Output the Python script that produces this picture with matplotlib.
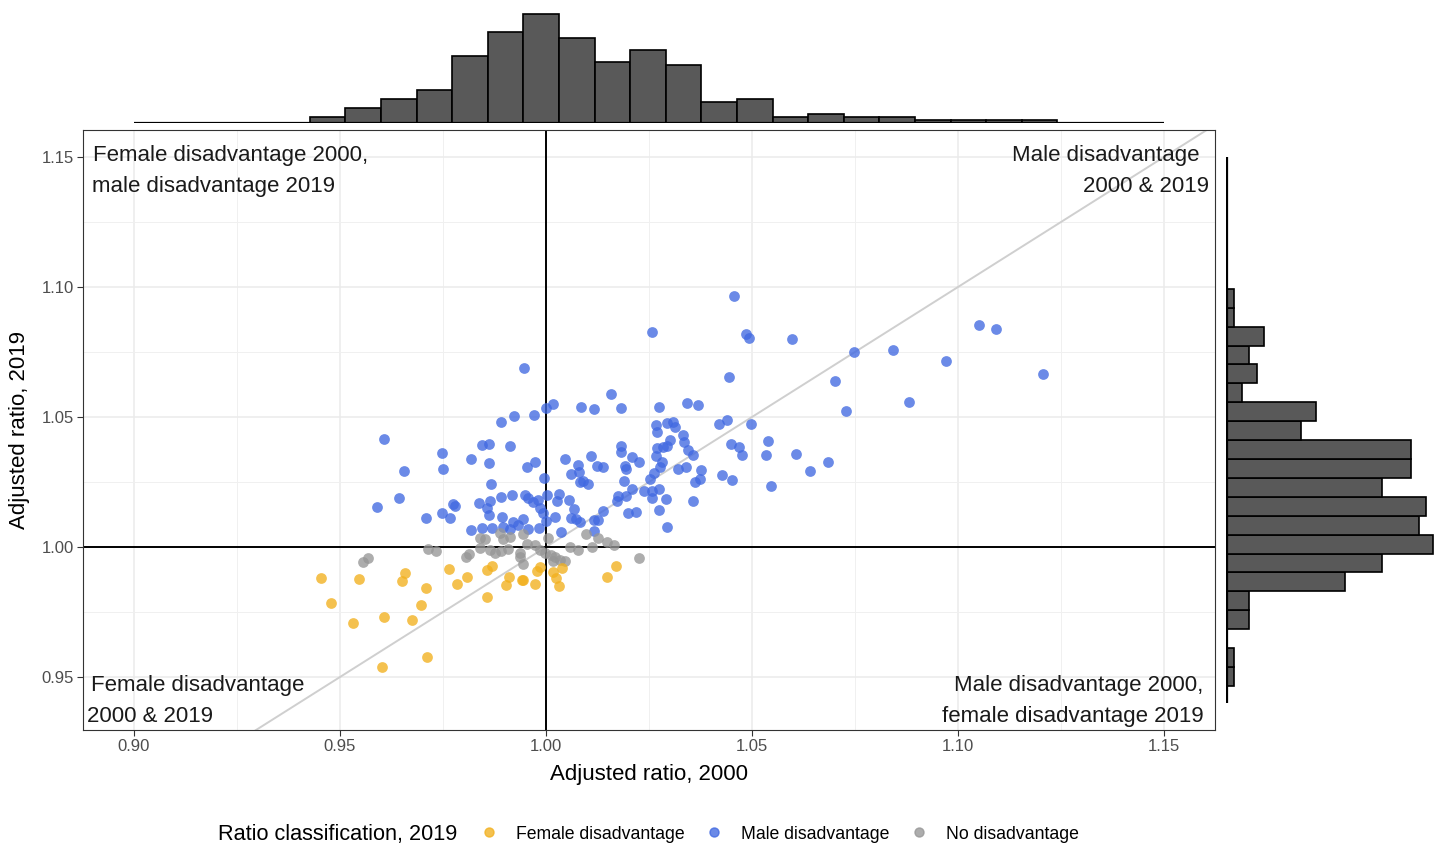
import numpy as np
import matplotlib
matplotlib.use("Agg")
import matplotlib.pyplot as plt
from matplotlib.lines import Line2D

plt.rcParams['font.family'] = ['Liberation Sans', 'DejaVu Sans']

# adjusted sex ratios, 2000 vs 2019, split by 2019 classification
male_x = [1.0456, 1.0257, 1.0485, 1.0492, 1.0596, 1.1051, 1.1093, 1.0748, 1.0842, 1.0970,
          1.1206, 1.0444, 1.0701, 1.0880, 1.0729, 1.0274, 1.0343, 1.0369, 1.0420, 1.0439,
          1.0498, 1.0268, 1.0269, 1.0293, 1.0308, 1.0314, 1.0333, 1.0335, 1.0302, 1.0270,
          1.0283, 1.0294, 1.0268, 1.0344, 1.0358, 1.0282, 1.0277, 1.0320, 1.0340, 1.0376,
          1.0261, 1.0252, 1.0362, 1.0373, 1.0448, 1.0468, 1.0476, 1.0540, 1.0534, 1.0607,
          1.0684, 1.0641, 1.0426, 1.0451, 1.0546, 1.0274, 1.0257, 1.0291, 1.0358, 1.0257,
          1.0274,
          0.9844, 0.9861, 0.9912, 0.9747, 0.9818, 0.9862, 0.9751, 0.9955, 0.9973, 0.9866,
          0.9995, 1.0046, 1.0109, 1.0060, 1.0078, 1.0081, 1.0123, 1.0139, 1.0083, 1.0091,
          1.0102, 1.0182, 1.0182, 1.0208, 1.0226, 1.0192, 1.0193, 1.0190, 1.0208, 1.0174,
          1.0173, 1.0193, 1.0237, 1.0198, 1.0218, 1.0139, 1.0127, 1.0117, 1.0117, 1.0293,
          0.9774, 0.9779, 0.9838, 0.9864, 0.9890, 0.9917, 0.9949, 0.9957, 0.9969, 0.9980,
          1.0002, 1.0032, 1.0027, 1.0056, 1.0069, 0.9856, 0.9862, 0.9747, 0.9767, 0.9892,
          0.9921, 0.9943, 0.9985, 0.9993, 1.0000, 1.0022, 1.0061, 1.0074, 1.0083, 0.9818,
          0.9844, 0.9868, 0.9896, 0.9913, 0.9931, 0.9956, 0.9983, 1.0036,
          0.9608, 0.9656, 0.9642, 0.9591, 0.9709,
          0.9947, 1.0158, 1.0016, 1.0000, 1.0086, 1.0117, 1.0183, 0.9891, 0.9922, 0.9972]
male_y = [1.0965, 1.0826, 1.0820, 1.0803, 1.0801, 1.0855, 1.0837, 1.0750, 1.0759, 1.0714,
          1.0665, 1.0655, 1.0640, 1.0558, 1.0524, 1.0537, 1.0554, 1.0546, 1.0473, 1.0488,
          1.0474, 1.0470, 1.0441, 1.0478, 1.0482, 1.0462, 1.0432, 1.0404, 1.0410, 1.0382,
          1.0385, 1.0387, 1.0350, 1.0374, 1.0353, 1.0326, 1.0307, 1.0299, 1.0307, 1.0296,
          1.0283, 1.0262, 1.0249, 1.0263, 1.0397, 1.0385, 1.0355, 1.0408, 1.0355, 1.0357,
          1.0328, 1.0291, 1.0277, 1.0259, 1.0236, 1.0222, 1.0217, 1.0185, 1.0176, 1.0187,
          1.0142,
          1.0392, 1.0396, 1.0390, 1.0360, 1.0340, 1.0323, 1.0299, 1.0307, 1.0327, 1.0244,
          1.0265, 1.0337, 1.0351, 1.0281, 1.0315, 1.0287, 1.0313, 1.0309, 1.0249, 1.0254,
          1.0241, 1.0388, 1.0364, 1.0345, 1.0327, 1.0313, 1.0301, 1.0253, 1.0222, 1.0197,
          1.0176, 1.0195, 1.0217, 1.0130, 1.0135, 1.0137, 1.0104, 1.0103, 1.0062, 1.0076,
          1.0164, 1.0159, 1.0170, 1.0176, 1.0191, 1.0200, 1.0200, 1.0187, 1.0174, 1.0181,
          1.0200, 1.0203, 1.0178, 1.0181, 1.0146, 1.0149, 1.0123, 1.0132, 1.0110, 1.0117,
          1.0095, 1.0108, 1.0149, 1.0130, 1.0099, 1.0117, 1.0110, 1.0107, 1.0095, 1.0065,
          1.0072, 1.0072, 1.0078, 1.0070, 1.0085, 1.0069, 1.0074, 1.0058,
          1.0414, 1.0294, 1.0188, 1.0154, 1.0113,
          1.0688, 1.0590, 1.0549, 1.0533, 1.0538, 1.0532, 1.0536, 1.0482, 1.0503, 1.0508]

none_x = [0.9840, 0.9852, 0.9888, 0.9913, 0.9943, 0.9896, 0.9840, 0.9864, 0.9876, 0.9891,
          0.9908, 0.9937, 0.9955, 0.9973, 0.9985, 0.9998, 1.0006, 1.0011, 1.0022, 1.0034,
          1.0046, 1.0018, 0.9945, 0.9937, 0.9806, 0.9814, 1.0058, 1.0078, 1.0096, 1.0111,
          1.0127, 1.0147, 1.0165, 1.0226, 0.9714, 0.9734, 0.9555, 0.9569]
none_y = [1.0036, 1.0032, 1.0053, 1.0040, 1.0050, 1.0031, 0.9995, 0.9988, 0.9978, 0.9985,
          0.9991, 0.9978, 1.0010, 1.0008, 0.9988, 0.9976, 1.0033, 0.9969, 0.9960, 0.9950,
          0.9947, 0.9947, 0.9935, 0.9963, 0.9963, 0.9972, 0.9999, 0.9988, 1.0050, 0.9999,
          1.0033, 1.0020, 1.0008, 0.9956, 0.9991, 0.9986, 0.9941, 0.9957]

female_x = [0.9765, 0.9808, 0.9785, 0.9856, 0.9870, 0.9858, 0.9910, 0.9904, 0.9941, 0.9944,
            0.9973, 0.9977, 0.9985, 1.0018, 1.0024, 1.0032, 1.0038, 1.0147, 1.0169,
            0.9453, 0.9546, 0.9658, 0.9651, 0.9708, 0.9478, 0.9696, 0.9532, 0.9607, 0.9675,
            0.9710, 0.9603]
female_y = [0.9915, 0.9886, 0.9858, 0.9912, 0.9928, 0.9809, 0.9886, 0.9854, 0.9873, 0.9874,
            0.9856, 0.9908, 0.9924, 0.9903, 0.9882, 0.9851, 0.9918, 0.9886, 0.9928,
            0.9882, 0.9877, 0.9899, 0.9869, 0.9841, 0.9783, 0.9777, 0.9709, 0.9730, 0.9719,
            0.9576, 0.9540]

# marginal histogram bins and counts
x_edges = [0.9427, 0.9513, 0.9600, 0.9686, 0.9773, 0.9859, 0.9945, 1.0032, 1.0118, 1.0205,
           1.0291, 1.0377, 1.0464, 1.0550, 1.0637, 1.0723, 1.0809, 1.0896, 1.0982, 1.1069,
           1.1155, 1.1241]
x_counts = [2, 5, 8, 11, 22, 30, 36, 28, 20, 24, 19, 7, 8, 2, 3, 2, 2, 1, 1, 1, 1]

y_edges = [0.9465, 0.9538, 0.9611, 0.9683, 0.9756, 0.9829, 0.9902, 0.9974, 1.0047, 1.0120,
           1.0193, 1.0265, 1.0338, 1.0411, 1.0484, 1.0556, 1.0629, 1.0702, 1.0774, 1.0847,
           1.0920, 1.0993]
y_counts = [1, 1, 0, 3, 3, 16, 21, 28, 26, 27, 21, 25, 25, 10, 12, 2, 4, 3, 5, 1, 1]

col_female = '#F2B01E'
col_male = '#4169E1'
col_none = '#969696'

W, H = 1443, 846
fig = plt.figure(figsize=(W / 100, H / 100), dpi=100)


def px_rect(left, top, right, bottom):
    return [left / W, 1 - bottom / H, (right - left) / W, (bottom - top) / H]


ax = fig.add_axes(px_rect(83, 130, 1215, 730))
ax_top = fig.add_axes(px_rect(83, 0, 1215, 123))
ax_right = fig.add_axes(px_rect(1226, 130, 1443, 730))

xlim = (0.88762, 1.16238)
ylim = (0.92962, 1.16038)

# main scatter
ax.set_xlim(*xlim)
ax.set_ylim(*ylim)
ax.set_xticks([0.90, 0.95, 1.00, 1.05, 1.10, 1.15])
ax.set_xticks([0.925, 0.975, 1.025, 1.075, 1.125], minor=True)
ax.set_yticks([0.95, 1.00, 1.05, 1.10, 1.15])
ax.set_yticks([0.975, 1.025, 1.075, 1.125], minor=True)
ax.set_xticklabels([f'{v:.2f}' for v in ax.get_xticks()])
ax.set_yticklabels([f'{v:.2f}' for v in ax.get_yticks()])
ax.grid(True, which='major', color='#EBEBEB', lw=1.1, zorder=0)
ax.grid(True, which='minor', color='#F0F0F0', lw=0.7, zorder=0)
ax.set_axisbelow(True)
ax.tick_params(which='major', length=4, width=0.8, color='#333333',
               labelsize=12, labelcolor='#4D4D4D', pad=2.5)
ax.tick_params(which='minor', length=0)
for s in ax.spines.values():
    s.set_color('#333333')
    s.set_linewidth(0.8)

ax.plot([0.8, 1.2], [0.8, 1.2], color='#CFCFCF', lw=1.4, zorder=1)
ax.axvline(1.0, color='black', lw=1.4, zorder=2)
ax.axhline(1.0, color='black', lw=1.4, zorder=2)

pt = dict(s=60, alpha=0.78, linewidths=0, zorder=3)
ax.scatter(male_x, male_y, color=col_male, **pt)
ax.scatter(none_x, none_y, color=col_none, **pt)
ax.scatter(female_x, female_y, color=col_female, **pt)

ax.set_xlabel('Adjusted ratio, 2000', fontsize=16, color='black', labelpad=7)
ax.set_ylabel('Adjusted ratio, 2019', fontsize=16, color='black', labelpad=8)

txt = dict(fontsize=16, color='#1A1A1A')
ax.text(0.8900, 1.1485, 'Female disadvantage 2000,', ha='left', va='baseline', **txt)
ax.text(0.8898, 1.1365, 'male disadvantage 2019', ha='left', va='baseline', **txt)
ax.text(1.1587, 1.1485, 'Male disadvantage', ha='right', va='baseline', **txt)
ax.text(1.1609, 1.1365, '2000 & 2019', ha='right', va='baseline', **txt)
ax.text(0.8896, 0.9446, 'Female disadvantage', ha='left', va='baseline', **txt)
ax.text(0.8886, 0.9327, '2000 & 2019', ha='left', va='baseline', **txt)
ax.text(1.1595, 0.9446, 'Male disadvantage 2000,', ha='right', va='baseline', **txt)
ax.text(1.1595, 0.9327, 'female disadvantage 2019', ha='right', va='baseline', **txt)

# top marginal histogram
bar_style = dict(color='#595959', edgecolor='black', linewidth=1.2)
ax_top.bar(x_edges[:-1], x_counts, width=np.diff(x_edges), align='edge', **bar_style)
ax_top.hlines(0, 0.90, 1.15, color='black', lw=1.6)
ax_top.set_xlim(*xlim)
ax_top.set_ylim(0, 40.6)
ax_top.axis('off')

# right marginal histogram
ax_right.barh(y_edges[:-1], y_counts, height=np.diff(y_edges), align='edge', **bar_style)
ax_right.vlines(0, 0.94, 1.15, color='black', lw=1.6)
ax_right.set_ylim(*ylim)
ax_right.set_xlim(-0.15, 29.3)
ax_right.axis('off')

# legend along the bottom
fig.text(218 / W, 1 - 834 / H, 'Ratio classification, 2019', fontsize=15.6,
         ha='left', va='center')
handles = [Line2D([], [], marker='o', ls='', color=c, alpha=0.78, markersize=6.5)
           for c in (col_female, col_male, col_none)]
fig.legend(handles, ['Female disadvantage', 'Male disadvantage', 'No disadvantage'],
           loc='center left', bbox_to_anchor=(480 / W, 1 - 834 / H), ncol=3,
           frameon=False, fontsize=12.7, handlelength=1.0, handletextpad=1.05,
           columnspacing=1.15, borderpad=0, borderaxespad=0)

fig.savefig('out.png', dpi=100)
